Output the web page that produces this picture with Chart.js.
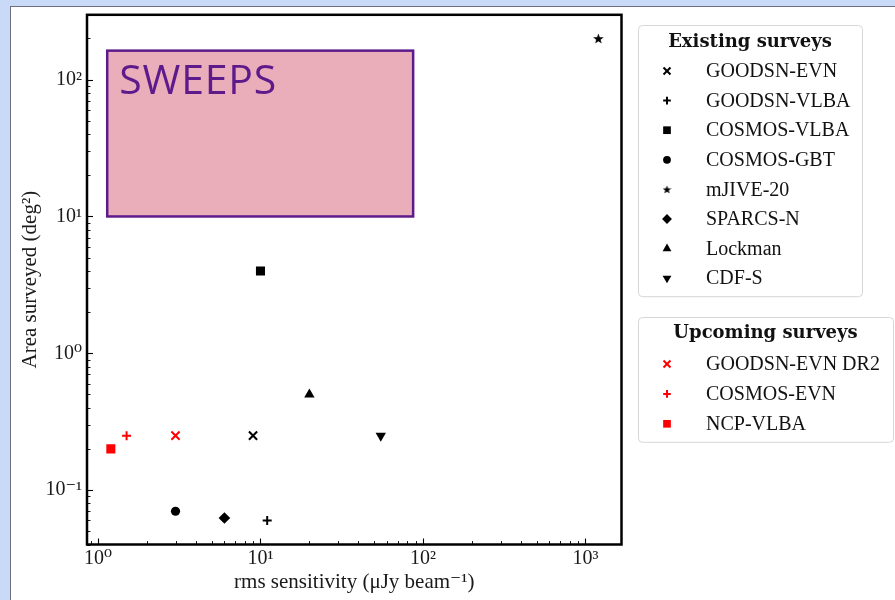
<!DOCTYPE html>
<html><head><meta charset="utf-8">
<script src="https://cdn.jsdelivr.net/npm/chart.js@4.4.0/dist/chart.umd.min.js"></script>
<style>
html,body{margin:0;padding:0;background:#c9daf8;width:895px;height:600px;overflow:hidden}
#wrap{position:absolute;left:10px;top:6px;width:885px;height:594px;background:#fff;border-left:1px solid #6f6f7d;border-top:1px solid #6f6f7d;box-sizing:border-box}
canvas{display:block}
</style></head><body>
<div id="wrap"><canvas id="c" width="884" height="593"></canvas></div>
<script>
// ---- data ----
const existingNames = ['GOODSN-EVN','GOODSN-VLBA','COSMOS-VLBA','COSMOS-GBT','mJIVE-20','SPARCS-N','Lockman','CDF-S'];
const existingSensitivity = [9, 11, 10, 3, 1200, 6, 20, 55];
const existingArea = [0.25, 0.06, 4, 0.07, 200, 0.0625, 0.5, 0.25];
const upcomingNames = ['GOODSN-EVN DR2','COSMOS-EVN','NCP-VLBA'];
const upcomingSensitivity = [3, 1.5, 1.2];
const upcomingArea = [0.25, 0.25, 0.2];
const sweepsLabel = 'SWEEPS';
const sweepsSensitivity = [1.14, 87];
const sweepsArea = [10, 163];
const xTickValues = [1, 10, 100, 1000];
const xTickLabels = ['10\u2070','10\u00b9','10\u00b2','10\u00b3'];
const yTickValues = [0.1, 1, 10, 100];
const yTickLabels = ['10\u207b\u00b9','10\u2070','10\u00b9','10\u00b2'];
const groupTitles = {existing:'Existing surveys', upcoming:'Upcoming surveys'};

// ---- styles ----
const existingMarkers = ['crossRot','cross','rect','circle','star','rectRot','triangle','triangleDown'];
const upcomingMarkers = ['crossRot','cross','rect'];
const SERIF = "'Liberation Serif','DejaVu Serif',serif";

function makeStar(size, color){
  const c = document.createElement('canvas');
  c.width = size; c.height = size;
  const g = c.getContext('2d');
  g.fillStyle = color;
  g.beginPath();
  const cx = size/2, cy = size/2 + size*0.05, R = size/2, r = R*0.42;
  for (let i=0;i<10;i++){
    const a = -Math.PI/2 + i*Math.PI/5;
    const rr = i%2===0 ? R : r;
    g.lineTo(cx + rr*Math.cos(a), cy + rr*Math.sin(a));
  }
  g.closePath(); g.fill();
  return c;
}
const starPlot = makeStar(11, '#000');
const starLegend = makeStar(9, '#000');

const markerStyle = {
  crossRot:{pointStyle:'crossRot', radius:5.8, border:2},
  cross:{pointStyle:'cross', radius:4.5, border:2},
  rect:{pointStyle:'rect', radius:6.4, border:0},
  circle:{pointStyle:'circle', radius:4.6, border:0},
  star:{pointStyle:starPlot, legendStyle:starLegend, radius:5, border:0},
  rectRot:{pointStyle:'rectRot', radius:5.8, border:0},
  triangle:{pointStyle:'triangle', radius:6, border:0},
  triangleDown:{pointStyle:'triangle', radius:6, border:0, rotation:180}
};

function makeDs(label, x, y, marker, color, group){
  const s = markerStyle[marker];
  return {label, group, marker, color, data:[{x, y}],
    pointStyle:s.pointStyle, pointRadius:s.radius, pointHoverRadius:s.radius,
    pointRotation:s.rotation||0, pointBackgroundColor:color, pointBorderColor:color,
    pointBorderWidth:s.border, showLine:false};
}
const datasets = [];
existingNames.forEach((n,i)=>datasets.push(makeDs(n, existingSensitivity[i], existingArea[i], existingMarkers[i], '#000000', 'existing')));
upcomingNames.forEach((n,i)=>datasets.push(makeDs(n, upcomingSensitivity[i], upcomingArea[i], upcomingMarkers[i], '#ff0000', 'upcoming')));

// ---- plugin: sweeps box, frame, inward ticks, grouped legends ----
function roundRect(ctx,x,y,w,h,r){
  ctx.beginPath();
  ctx.moveTo(x+r,y); ctx.lineTo(x+w-r,y); ctx.arcTo(x+w,y,x+w,y+r,r);
  ctx.lineTo(x+w,y+h-r); ctx.arcTo(x+w,y+h,x+w-r,y+h,r);
  ctx.lineTo(x+r,y+h); ctx.arcTo(x,y+h,x,y+h-r,r);
  ctx.lineTo(x,y+r); ctx.arcTo(x,y,x+r,y,r); ctx.closePath();
}
const decor = {
  id:'decor',
  beforeDatasetsDraw(chart){
    const {ctx, scales:{x, y}} = chart;
    const x1 = x.getPixelForValue(sweepsSensitivity[0]), x2 = x.getPixelForValue(sweepsSensitivity[1]);
    const y1 = y.getPixelForValue(sweepsArea[1]), y2 = y.getPixelForValue(sweepsArea[0]);
    ctx.save();
    ctx.fillStyle = '#eaaebb';
    ctx.fillRect(x1, y1, x2-x1, y2-y1);
    ctx.strokeStyle = '#5e1a8b'; ctx.lineWidth = 2.5;
    ctx.strokeRect(x1, y1, x2-x1, y2-y1);
    ctx.fillStyle = '#5e1a8b';
    ctx.font = "41px 'Open Sans', sans-serif";
    ctx.letterSpacing = '0.8px';
    ctx.textBaseline = 'alphabetic'; ctx.textAlign = 'left';
    ctx.fillText(sweepsLabel, x1 + 12, y1 + 43);
    ctx.restore();
  },
  afterDraw(chart){
    const {ctx, chartArea:a, scales:{x, y}} = chart;
    ctx.save();
    // ticks (inward)
    ctx.strokeStyle = '#000';
    for (let d=-2; d<=4; d++){
      for (let m=1; m<=9; m++){
        const v = m*Math.pow(10,d);
        const len = m===1 ? 6 : 3.5;
        ctx.lineWidth = m===1 ? 1.1 : 0.9;
        if (v >= x.min && v <= x.max){
          const px = Math.round(x.getPixelForValue(v))+0.5;
          ctx.beginPath(); ctx.moveTo(px, a.bottom); ctx.lineTo(px, a.bottom-len); ctx.stroke();
        }
        if (v >= y.min && v <= y.max){
          const py = Math.round(y.getPixelForValue(v))+0.5;
          ctx.beginPath(); ctx.moveTo(a.left, py); ctx.lineTo(a.left+len, py); ctx.stroke();
        }
      }
    }
    // frame
    ctx.lineWidth = 2.5; ctx.strokeStyle = '#000';
    ctx.strokeRect(a.left, a.top, a.right-a.left, a.bottom-a.top);

    // legends
    const boxes = [
      {group:'existing', left:a.right+16.5, top:18, width:224, titleY:35, firstY:64, step:29.6, bottomPad:12},
      {group:'upcoming', left:a.right+16.5, top:310, width:255, titleY:326, firstY:357, step:29.9, bottomPad:12}
    ];
    boxes.forEach(b=>{
      const items = chart.data.datasets.filter(ds=>ds.group===b.group);
      const h = (b.firstY - b.top) + (items.length-1)*b.step + b.bottomPad + 6;
      ctx.fillStyle = 'rgba(255,255,255,0.85)';
      ctx.strokeStyle = '#d6d6d6'; ctx.lineWidth = 1;
      roundRect(ctx, b.left+0.5, b.top+0.5, b.width, h, 4);
      ctx.fill(); ctx.stroke();
      ctx.fillStyle = '#111';
      ctx.font = "bold 18px 'DejaVu Serif', serif";
      ctx.textAlign = 'center'; ctx.textBaseline = 'middle';
      ctx.fillText(groupTitles[b.group], b.left + b.width/2, b.titleY);
      ctx.font = "20px " + SERIF; ctx.textAlign = 'left';
      items.forEach((ds,i)=>{
        const yy = b.firstY + i*b.step;
        const s = markerStyle[ds.marker];
        ctx.fillStyle = ds.color; ctx.strokeStyle = ds.color;
        ctx.lineWidth = s.border;
        Chart.helpers.drawPoint(ctx, {pointStyle: s.legendStyle || s.pointStyle, radius: s.radius*0.85,
          rotation: s.rotation||0, borderWidth: s.border}, b.left + 29, yy);
        ctx.fillStyle = '#111';
        ctx.fillText(ds.label, b.left + 68, yy + 1);
      });
    });
    ctx.restore();
  }
};

const tickFont = {family:SERIF, size:20};
const titleFont = {family:SERIF, size:21};
new Chart(document.getElementById('c'), {
  type:'scatter',
  data:{datasets},
  options:{
    responsive:false, animation:false, events:[],
    layout:{padding:{left:0, top:7, right:273.5, bottom:0}},
    plugins:{legend:{display:false}, tooltip:{enabled:false}},
    scales:{
      x:{type:'logarithmic', min:0.856, max:1666,
        afterBuildTicks:s=>{ s.ticks = xTickValues.map(v=>({value:v})); },
        afterFit:s=>{ s.height = 55.5; s.paddingLeft = 0; s.paddingRight = 0; },
        ticks:{callback:(v,i)=>xTickLabels[i], font:tickFont, color:'#1a1a1a', padding:2, maxRotation:0, autoSkip:false},
        grid:{display:false, drawTicks:false}, border:{display:false},
        title:{display:true, text:'rms sensitivity (\u03bcJy beam\u207b\u00b9)', font:titleFont, color:'#1a1a1a', padding:{top:0, bottom:5}}
      },
      y:{type:'logarithmic', min:0.04, max:298,
        afterBuildTicks:s=>{ s.ticks = yTickValues.map(v=>({value:v})); },
        afterFit:s=>{ s.width = 76; s.paddingTop = 0; s.paddingBottom = 0; },
        ticks:{callback:(v,i)=>yTickLabels[i], font:tickFont, color:'#1a1a1a', padding:5, autoSkip:false},
        grid:{display:false, drawTicks:false}, border:{display:false},
        title:{display:true, text:'Area surveyed (deg\u00b2)', font:titleFont, color:'#1a1a1a', padding:{top:7, bottom:0}}
      }
    }
  },
  plugins:[decor]
});
</script>
</body></html>
